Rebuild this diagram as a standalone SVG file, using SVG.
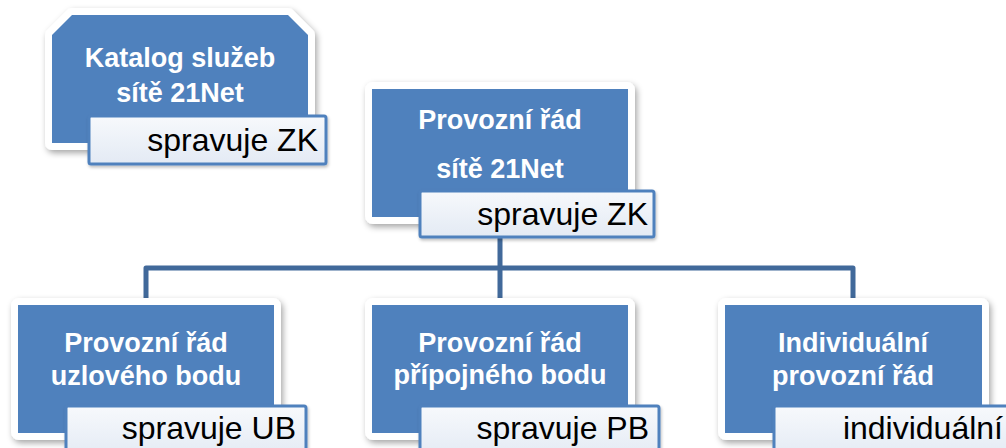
<svg xmlns="http://www.w3.org/2000/svg" width="1006" height="448" viewBox="0 0 1006 448">
<defs>
<filter id="sh" x="-10%" y="-10%" width="125%" height="130%">
<feDropShadow dx="2" dy="3" stdDeviation="3" flood-color="#000" flood-opacity="0.35"/>
</filter>
<filter id="sh2" x="-10%" y="-10%" width="125%" height="130%">
<feDropShadow dx="1" dy="2" stdDeviation="1.5" flood-color="#000" flood-opacity="0.25"/>
</filter>
<linearGradient id="lg" x1="0" y1="0" x2="0" y2="1">
<stop offset="0" stop-color="#f7f9fc"/>
<stop offset="1" stop-color="#e3eaf4"/>
</linearGradient>
</defs>
<style>
.frame{fill:#4f81bd;stroke:#ffffff;stroke-width:14;stroke-linejoin:round}
.blue{fill:#4f81bd}
.lab{fill:url(#lg);stroke:#4f81bd;stroke-width:3}
.t{font-family:"Liberation Sans",Arial,sans-serif;font-weight:bold;font-size:27px;fill:#ffffff;text-anchor:middle}
.s{font-family:"Liberation Sans",Arial,sans-serif;font-size:32px;fill:#000000;text-anchor:end}
.con{fill:none;stroke:#41699a;stroke-width:5;stroke-linejoin:round}
</style>
<g id="connectors">
<path class="con" d="M500 236 V268 M146 300 V268 H853 V300 M500 268 V300"/>
</g>
<g id="katalog">
<polygon class="frame" filter="url(#sh)" points="72,15 288,15 308,35 308,143 52,143 52,35"/>
<polygon class="blue" points="72,15 288,15 308,35 308,143 52,143 52,35"/>
<text class="t" x="180" y="67">Katalog služeb</text>
<text class="t" x="180" y="102">sítě 21Net</text>
<rect class="lab" filter="url(#sh2)" x="89" y="116" width="237" height="48" rx="2"/>
<text class="s" x="318" y="151">spravuje ZK</text>
</g>
<g id="provozni-sit">
<rect class="frame" filter="url(#sh)" x="372" y="89" width="256" height="128" rx="1"/>
<rect class="blue" x="372" y="89" width="256" height="128"/>
<text class="t" x="500" y="129">Provozní řád</text>
<text class="t" x="500" y="178">sítě 21Net</text>
<rect class="lab" filter="url(#sh2)" x="420" y="191" width="234" height="46" rx="2"/>
<text class="s" x="648" y="225">spravuje ZK</text>
</g>
<g id="uzlovy-bod">
<rect class="frame" filter="url(#sh)" x="18" y="305" width="256" height="128" rx="1"/>
<rect class="blue" x="18" y="305" width="256" height="128"/>
<text class="t" x="146" y="352">Provozní řád</text>
<text class="t" x="146" y="385">uzlového bodu</text>
<rect class="lab" filter="url(#sh2)" x="66" y="406" width="240" height="52" rx="2"/>
<text class="s" x="296" y="439">spravuje UB</text>
</g>
<g id="pripojny-bod">
<rect class="frame" filter="url(#sh)" x="372" y="305" width="256" height="128" rx="1"/>
<rect class="blue" x="372" y="305" width="256" height="128"/>
<text class="t" x="500" y="352">Provozní řád</text>
<text class="t" x="500" y="384">přípojného bodu</text>
<rect class="lab" filter="url(#sh2)" x="420" y="406" width="239" height="52" rx="2"/>
<text class="s" x="649" y="439">spravuje PB</text>
</g>
<g id="individualni">
<rect class="frame" filter="url(#sh)" x="725" y="305" width="257" height="128" rx="1"/>
<rect class="blue" x="725" y="305" width="257" height="128"/>
<text class="t" x="853" y="352">Individuální</text>
<text class="t" x="853" y="385">provozní řád</text>
<rect class="lab" filter="url(#sh2)" x="774" y="406" width="250" height="52" rx="2"/>
<text class="s" x="1003" y="439">individuální</text>
</g>
</svg>
